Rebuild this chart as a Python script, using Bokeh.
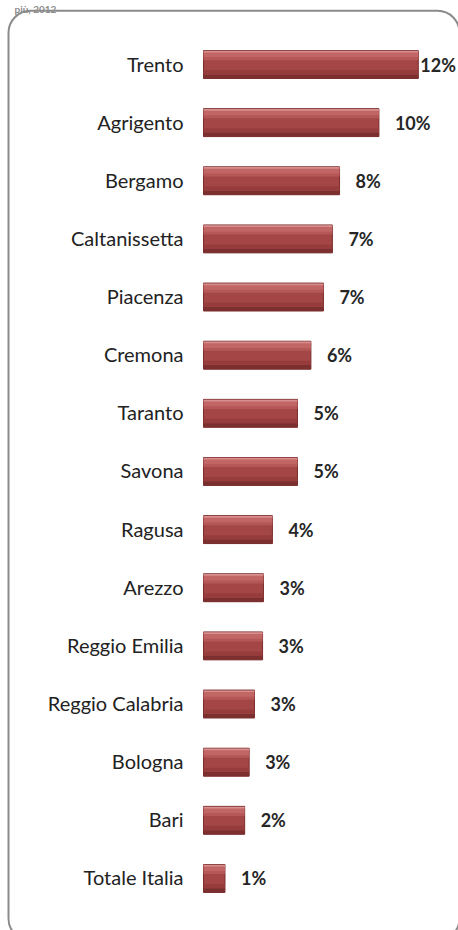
from bokeh.plotting import figure
from bokeh.models import Range1d, ColumnDataSource, BoxAnnotation
from bokeh.transform import dodge
from bokeh.core.properties import value
from bokeh.embed import file_html
from bokeh.resources import INLINE

# ---- data ----
provinces = ["Trento", "Agrigento", "Bergamo", "Caltanissetta", "Piacenza",
             "Cremona", "Taranto", "Savona", "Ragusa", "Arezzo",
             "Reggio Emilia", "Reggio Calabria", "Bologna", "Bari", "Totale Italia"]
shares = [12.0, 9.8, 7.6, 7.2, 6.7, 6.0, 5.25, 5.25, 3.85, 3.35, 3.3, 2.85, 2.55, 2.3, 1.2]
title_tail = "più, 2012"   # visible tail of the (cropped) title

# ---- layout constants (pixels) ----
W, H = 458, 930
BAR0 = 203        # canvas x where bars start
PX = 17.9         # pixels per percentage point
TOP0 = 64         # canvas y of first row centre
ROW = 58.14       # row spacing in pixels

rows = list(range(len(provinces)))
labels = [f"{int(v + 0.5)}%" for v in shares]
vmax = max(shares)
offsets = [2 if v == vmax else 16 for v in shares]

src = ColumnDataSource(dict(y=rows, v=shares, name=provinces, lab=labels, off=offsets,
                            zero=[0] * len(rows)))

p = figure(width=W, height=H, output_backend="svg", toolbar_location=None,
           x_range=Range1d(-BAR0 / PX, (W - BAR0) / PX),
           y_range=Range1d((H - TOP0) / ROW, -TOP0 / ROW),
           min_border=0, min_border_left=0, min_border_right=0,
           min_border_top=0, min_border_bottom=0)
p.axis.visible = False
p.grid.visible = False
p.outline_line_color = None
p.background_fill_color = "white"
p.border_fill_color = "white"

# decoration positioned in canvas pixels
def dx(cx):
    return (cx - BAR0) / PX

def dy(cy):
    return (cy - TOP0) / ROW

# title tail at the very top (kept fully visible)
p.text(x=[dx(14)], y=[dy(8)], text=[title_tail], text_align="left",
       text_baseline="alphabetic", text_font=value("Lato"), text_font_style="bold",
       text_font_size="10px", text_color="#8c8c8c")

frame = BoxAnnotation(left=dx(8), right=dx(459), top=dy(10.3), bottom=dy(940),
                      fill_color=None, fill_alpha=0, line_color="#8a8a8a",
                      line_alpha=1.0, line_width=2, border_radius=22)
p.add_layout(frame)

BH = 0.48
# base bar
p.hbar(y="y", left="zero", right="v", height=BH, source=src,
       fill_color="#a44646", line_color="#7a2c2c", line_width=1)
# top bevel / highlight bands
p.hbar(y=dodge("y", -0.17, range=p.y_range), left="zero", right="v", height=0.11,
       source=src, fill_color="#c26565", line_color=None)
p.hbar(y=dodge("y", -0.10, range=p.y_range), left="zero", right="v", height=0.05,
       source=src, fill_color="#b55757", line_color=None)
p.hbar(y=dodge("y", -0.22, range=p.y_range), left="zero", right="v", height=0.03,
       source=src, fill_color="#d68e8e", line_color=None)
# lower body and bottom shadow
p.hbar(y=dodge("y", 0.13, range=p.y_range), left="zero", right="v", height=0.07,
       source=src, fill_color="#973c3c", line_color=None)
p.hbar(y=dodge("y", 0.205, range=p.y_range), left="zero", right="v", height=0.07,
       source=src, fill_color="#7c2f2f", line_color=None)

# category labels
p.text(x="zero", y="y", text="name", source=src, x_offset=-20, y_offset=-1,
       text_align="right", text_baseline="middle",
       text_font=value("Lato"), text_font_size="20px", text_color="#222222")

# value labels
p.text(x="v", y="y", text="lab", source=src, x_offset="off", y_offset=0,
       text_align="left", text_baseline="middle",
       text_font=value("Lato"), text_font_style="bold", text_font_size="18px",
       text_color="#262626")

open("out.html", "w").write(file_html(p, INLINE))
